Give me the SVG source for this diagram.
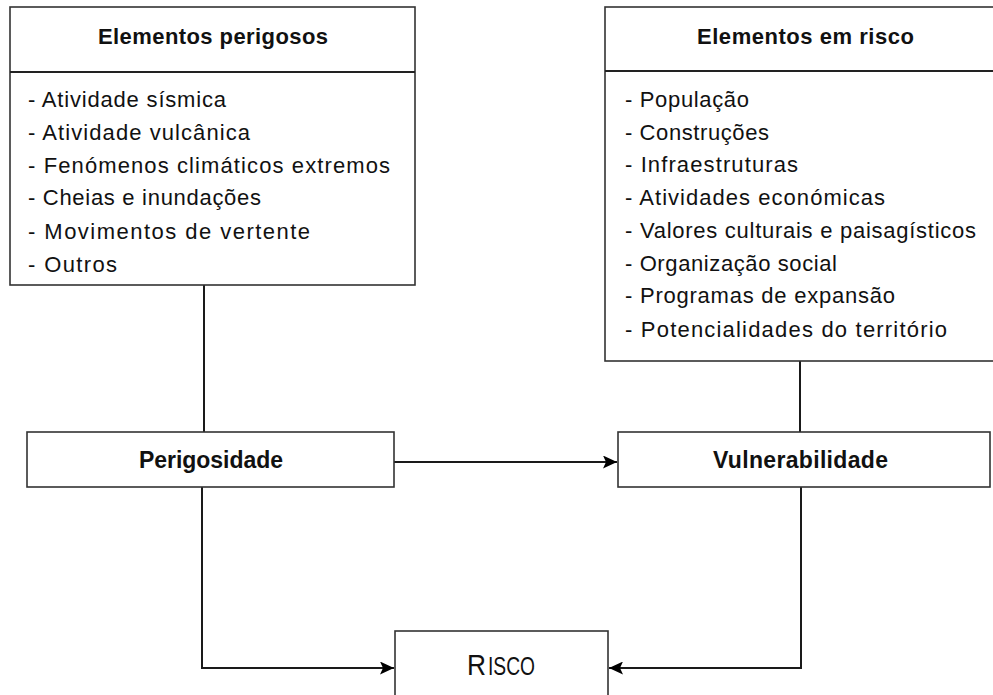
<svg xmlns="http://www.w3.org/2000/svg" width="993" height="695" viewBox="0 0 993 695">
<style>
.box{fill:#fff;stroke:#333;stroke-width:1.6}
.div{stroke:#222;stroke-width:2}
.t{font-family:"Liberation Sans",Arial,sans-serif;font-size:22px;fill:#111}
.b{font-family:"Liberation Sans",Arial,sans-serif;font-size:22px;font-weight:bold;fill:#111}
.c{fill:none;stroke:#1a1a1a;stroke-width:2}
</style>
<defs>
<marker id="arr" viewBox="0 0 14 13" refX="14" refY="6.5" markerWidth="14" markerHeight="13" markerUnits="userSpaceOnUse" orient="auto">
<path d="M0,0 L14,6.5 L0,13 L3,6.5 Z" fill="#000"/>
</marker>
</defs>
<rect width="993" height="695" fill="#fff"/>
<g id="connectors">
<line class="c" x1="204" y1="285" x2="204" y2="432"/>
<line class="c" x1="800" y1="361" x2="800" y2="432"/>
<line class="c" x1="394" y1="462" x2="617" y2="462" marker-end="url(#arr)"/>
<polyline class="c" points="202,487 202,668 394,668" marker-end="url(#arr)"/>
<polyline class="c" points="801,487 801,668 609,668" marker-end="url(#arr)"/>
</g>
<g id="elementos-perigosos">
<rect class="box" x="10" y="7" width="405" height="278"/>
<line class="div" x1="10" y1="72" x2="415" y2="72"/>
<text class="b" x="98" y="44" textLength="230" lengthAdjust="spacing">Elementos perigosos</text>
<text class="t" x="28" y="107" textLength="198" lengthAdjust="spacing">- Atividade sísmica</text>
<text class="t" x="28" y="140" textLength="222" lengthAdjust="spacing">- Atividade vulcânica</text>
<text class="t" x="28" y="173" textLength="362" lengthAdjust="spacing">- Fenómenos climáticos extremos</text>
<text class="t" x="28" y="205" textLength="233" lengthAdjust="spacing">- Cheias e inundações</text>
<text class="t" x="28" y="239" textLength="282" lengthAdjust="spacing">- Movimentos de vertente</text>
<text class="t" x="28" y="272" textLength="89" lengthAdjust="spacing">- Outros</text>
</g>
<g id="elementos-em-risco">
<rect class="box" x="605" y="7" width="400" height="354"/>
<line class="div" x1="605" y1="71" x2="1000" y2="71"/>
<text class="b" x="697" y="44" textLength="217" lengthAdjust="spacing">Elementos em risco</text>
<text class="t" x="625" y="107" textLength="124" lengthAdjust="spacing">- População</text>
<text class="t" x="625" y="140" textLength="144" lengthAdjust="spacing">- Construções</text>
<text class="t" x="625" y="172" textLength="173" lengthAdjust="spacing">- Infraestruturas</text>
<text class="t" x="625" y="205" textLength="260" lengthAdjust="spacing">- Atividades económicas</text>
<text class="t" x="625" y="238" textLength="351" lengthAdjust="spacing">- Valores culturais e paisagísticos</text>
<text class="t" x="625" y="271" textLength="212" lengthAdjust="spacing">- Organização social</text>
<text class="t" x="625" y="303" textLength="270" lengthAdjust="spacing">- Programas de expansão</text>
<text class="t" x="625" y="337" textLength="322" lengthAdjust="spacing">- Potencialidades do território</text>
</g>
<g id="perigosidade">
<rect class="box" x="27" y="432" width="367" height="55"/>
<text class="b" x="139" y="468" style="font-size:23px" textLength="144" lengthAdjust="spacing">Perigosidade</text>
</g>
<g id="vulnerabilidade">
<rect class="box" x="618" y="432" width="372" height="55"/>
<text class="b" x="713" y="468" style="font-size:23px" textLength="175" lengthAdjust="spacing">Vulnerabilidade</text>
</g>
<g id="risco">
<rect class="box" x="395" y="631" width="213" height="80"/>
<text class="t" x="467" y="675" style="font-size:30px" textLength="19" lengthAdjust="spacingAndGlyphs">R</text>
<text class="t" x="488" y="675" style="font-size:25px" textLength="47" lengthAdjust="spacingAndGlyphs">ISCO</text>
</g>
</svg>
